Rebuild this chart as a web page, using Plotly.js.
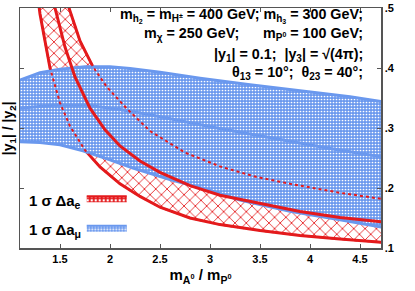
<!DOCTYPE html>
<html>
<head>
<meta charset="utf-8">
<script src="https://cdn.plot.ly/plotly-3.0.1.min.js"></script>
<style>html,body{margin:0;padding:0;background:#fff;}#plot{width:415px;height:291px;}</style>
</head>
<body>
<div id="plot"></div>
<script>
// Red band (1 sigma Delta a_e): lower edge, central curve, upper edge
var redLowX = [1.27, 1.30, 1.40, 1.50, 1.60, 1.75, 1.90, 2.10, 2.30, 2.50, 2.80, 3.10, 3.50, 3.90, 4.30, 4.75];
var redLowY = [0.530, 0.490, 0.400, 0.342, 0.303, 0.263, 0.235, 0.207, 0.186, 0.168, 0.150, 0.139, 0.129, 0.121, 0.115, 0.109];
var redMidX = [1.42, 1.45, 1.55, 1.65, 1.80, 1.95, 2.10, 2.30, 2.50, 2.80, 3.10, 3.50, 3.90, 4.30, 4.75];
var redMidY = [0.530, 0.500, 0.435, 0.385, 0.333, 0.297, 0.270, 0.245, 0.226, 0.204, 0.188, 0.174, 0.161, 0.151, 0.143];
var redUpX = [1.56, 1.59, 1.70, 1.83, 1.97, 2.17, 2.40, 2.75, 3.10, 3.45, 3.80, 4.30, 4.75];
var redUpY = [0.530, 0.500, 0.445, 0.402, 0.368, 0.332, 0.295, 0.259, 0.236, 0.219, 0.207, 0.192, 0.181];
// Blue band (1 sigma Delta a_mu)
var bluUpX = [1.10, 1.30, 1.50, 1.75, 2.00, 2.20, 2.50, 2.90, 3.40, 3.90, 4.40, 4.75];
var bluUpY = [0.380, 0.392, 0.398, 0.402, 0.402, 0.399, 0.393, 0.383, 0.372, 0.362, 0.352, 0.343];
var bluMidX = [1.10, 1.43, 1.77, 2.10, 2.40, 2.70, 3.07, 3.40, 3.73, 4.20, 4.75];
var bluMidY = [0.333, 0.338, 0.338, 0.331, 0.322, 0.312, 0.300, 0.290, 0.280, 0.266, 0.251];
var bluLowX = [1.10, 1.30, 1.50, 1.73, 2.00, 2.23, 2.60, 3.00, 3.30, 3.80, 4.30, 4.75];
var bluLowY = [0.277, 0.276, 0.272, 0.262, 0.247, 0.233, 0.214, 0.196, 0.180, 0.161, 0.147, 0.134];
// Axis ticks
var xTickVals = [1.5, 2, 2.5, 3, 3.5, 4, 4.5];
var xTickText = ['1.5', '2', '2.5', '3', '3.5', '4', '4.5'];
var yTickVals = [0.1, 0.2, 0.3, 0.4, 0.5];
var yTickText = ['.1', '.2', '.3', '.4', '.5'];
// Texts
var legendLabels = ['1 σ Δa<sub>e</sub>', '1 σ Δa<sub>μ</sub>'];
var infoLines = [
  'm<sub>h<sub>2</sub></sub> = m<sub>H<sup>±</sup></sub> = 400 GeV; m<sub>h<sub>3</sub></sub> = 300 GeV;',
  'm<sub>χ</sub> = 250 GeV;      m<sub>P<sup>0</sup></sub> = 100 GeV;',
  '|y<sub>1</sub>| = 0.1;  |y<sub>3</sub>| = √(4π);',
  'θ<sub>13</sub> = 10°;  θ<sub>23</sub> = 40°;'
];
var xTitle = 'm<sub>A<sup>0</sup></sub> / m<sub>P<sup>0</sup></sub>';
var yTitle = '|y<sub>1</sub>| / |y<sub>2</sub>|';

var RED = '#e41a1c', BLUE = '#6a98ee';
var FONT = 'Liberation Sans, Arial, Helvetica, sans-serif';

var traces = [
  {x: redLowX, y: redLowY, mode: 'lines', line: {color: RED, width: 3}, showlegend: false},
  {x: redUpX, y: redUpY, mode: 'lines', line: {color: RED, width: 3}, fill: 'tonexty',
   fillcolor: 'rgba(0,0,0,0)',
   fillpattern: {shape: 'x', fgcolor: RED, bgcolor: 'rgba(0,0,0,0)', size: 8, solidity: 0.2},
   showlegend: false},
  {x: bluLowX, y: bluLowY, mode: 'lines', line: {color: BLUE, width: 3}, showlegend: false},
  {x: bluUpX, y: bluUpY, mode: 'lines', line: {color: BLUE, width: 3}, fill: 'tonexty',
   fillcolor: BLUE,
   fillpattern: {shape: '.', fgcolor: '#ffffff', bgcolor: BLUE, size: 3, solidity: 0.26},
   showlegend: false},
  {x: bluMidX, y: bluMidY, mode: 'lines', line: {color: BLUE, width: 3}, showlegend: false},
  // red edges seen through the blue band
  {x: redLowX, y: redLowY, mode: 'lines', line: {color: RED, width: 2, dash: 'dot'}, showlegend: false},
  {x: redUpX, y: redUpY, mode: 'lines', line: {color: RED, width: 2, dash: 'dot'}, showlegend: false},
  {x: redMidX, y: redMidY, mode: 'lines', line: {color: RED, width: 3}, showlegend: false},
  // legend-only entries
  {x: [null], y: [null], mode: 'lines', line: {color: RED, width: 2}, fill: 'toself',
   fillcolor: RED,
   fillpattern: {shape: '.', fgcolor: '#ffffff', bgcolor: RED, size: 4, solidity: 0.3},
   name: ' ', showlegend: true, legend: 'legend'},
  {x: [null], y: [null], mode: 'lines', line: {color: BLUE, width: 2}, fill: 'toself',
   fillcolor: BLUE,
   fillpattern: {shape: '.', fgcolor: '#ffffff', bgcolor: BLUE, size: 3, solidity: 0.3},
   name: ' ', showlegend: true, legend: 'legend2'}
];

var annotations = [];
var infoY = [0.968, 0.893, 0.805, 0.728];
infoLines.forEach(function (t, i) {
  annotations.push({text: t, xref: 'paper', yref: 'paper', x: 0.957, y: infoY[i],
    xanchor: 'right', yanchor: 'middle', showarrow: false,
    font: {family: FONT, size: 14.3, color: '#000', weight: 'bold'}});
});
var legY = [0.194, 0.071];
legendLabels.forEach(function (t, i) {
  annotations.push({text: t, xref: 'paper', yref: 'paper', x: 0.02, y: legY[i],
    xanchor: 'left', yanchor: 'middle', showarrow: false,
    font: {family: FONT, size: 15, color: '#000', weight: 'bold'}});
});
annotations.push({text: yTitle, xref: 'paper', yref: 'paper', x: -0.03, y: 0.5,
  xanchor: 'center', yanchor: 'middle', textangle: -90, showarrow: false,
  font: {family: FONT, size: 14, color: '#000', weight: 'bold'}});

var layout = {
  width: 415, height: 291,
  margin: {l: 20, r: 34, t: 8, b: 43},
  paper_bgcolor: '#fff', plot_bgcolor: '#fff',
  font: {family: FONT, color: '#000'},
  xaxis: {range: [1.1, 4.71], tickvals: xTickVals, ticktext: xTickText,
    ticks: 'inside', ticklen: 4, tickcolor: '#555', showline: true, mirror: 'ticks',
    linecolor: '#555', linewidth: 1.5, showgrid: false, zeroline: false,
    tickfont: {family: FONT, size: 11, weight: 'bold'},
    title: {text: xTitle, font: {family: FONT, size: 15, weight: 'bold'}, standoff: 6}},
  yaxis: {range: [0.1, 0.5], side: 'right', tickvals: yTickVals, ticktext: yTickText,
    ticks: 'inside', ticklen: 4, tickcolor: '#555', showline: true, mirror: 'ticks',
    linecolor: '#555', linewidth: 1.5, showgrid: false, zeroline: false,
    tickfont: {family: FONT, size: 11, weight: 'bold'}},
  legend: {x: 0.171, y: 0.207, xanchor: 'left', yanchor: 'middle', bgcolor: 'rgba(0,0,0,0)',
    font: {size: 10}, itemwidth: 40},
  legend2: {x: 0.171, y: 0.084, xanchor: 'left', yanchor: 'middle', bgcolor: 'rgba(0,0,0,0)',
    font: {size: 10}, itemwidth: 40},
  annotations: annotations
};

Plotly.newPlot('plot', traces, layout, {displayModeBar: false, staticPlot: true});
</script>
</body>
</html>
